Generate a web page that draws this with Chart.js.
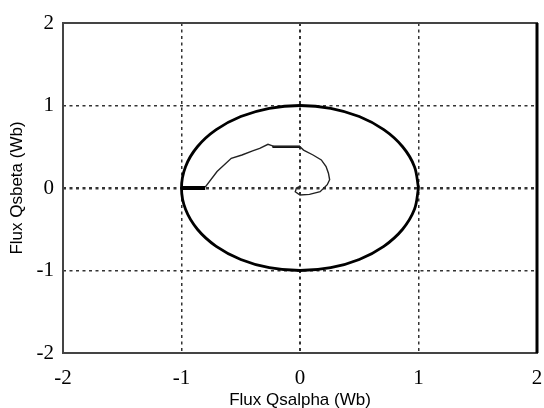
<!DOCTYPE html>
<html>
<head>
<meta charset="utf-8">
<script src="https://cdn.jsdelivr.net/npm/chart.js@4/dist/chart.umd.min.js"></script>
<style>
  html, body { margin: 0; padding: 0; background: #fff; }
  #wrap { width: 544px; height: 408px; }
</style>
</head>
<body>
<div id="wrap"><canvas id="fluxChart"></canvas></div>
<script>
// flux limit circle (|flux| = 1 Wb), read every 15 degrees
const circleAlpha = [1, 0.966, 0.866, 0.707, 0.5, 0.259, 0, -0.259, -0.5, -0.707, -0.866, -0.966, -1,
                     -0.966, -0.866, -0.707, -0.5, -0.259, 0, 0.259, 0.5, 0.707, 0.866, 0.966, 1];
const circleBeta  = [0, 0.259, 0.5, 0.707, 0.866, 0.966, 1, 0.966, 0.866, 0.707, 0.5, 0.259, 0,
                     -0.259, -0.5, -0.707, -0.866, -0.966, -1, -0.966, -0.866, -0.707, -0.5, -0.259, 0];

// thick start segment on the alpha axis
const startAlpha = [-1.0, -0.80];
const startBeta  = [0, 0];

// stator flux trajectory
const pathAlpha = [-0.80, -0.70, -0.58, -0.49, -0.40, -0.34, -0.27, -0.23, -0.23, 0.0, 0.03, 0.11, 0.18, 0.22, 0.24, 0.25, 0.23, 0.17, 0.08, 0.0, -0.04, -0.03, 0.0];
const pathBeta  = [0.01, 0.20, 0.36, 0.40, 0.45, 0.48, 0.53, 0.51, 0.50, 0.50, 0.46, 0.40, 0.34, 0.26, 0.18, 0.10, 0.04, -0.045, -0.077, -0.085, -0.045, 0.0, 0.02];

// thick flat part at the top of the trajectory
const holdAlpha = [-0.23, 0.0];
const holdBeta  = [0.50, 0.50];

const axisMin = -2;
const axisMax = 2;

function toPoints(xs, ys) {
  return xs.map((x, i) => ({ x: x, y: ys[i] }));
}

const frameBox = {
  id: 'frameBox',
  afterDraw(chart) {
    const { ctx, chartArea: a } = chart;
    ctx.save();
    ctx.strokeStyle = '#444';
    ctx.lineWidth = 2;
    ctx.strokeRect(a.left, a.top, a.right - a.left, a.bottom - a.top);
    ctx.strokeStyle = '#000';
    ctx.lineWidth = 3;
    ctx.beginPath();
    ctx.moveTo(a.right, a.top);
    ctx.lineTo(a.right, a.bottom);
    ctx.stroke();
    ctx.restore();
  }
};

const ctx = document.getElementById('fluxChart').getContext('2d');
const fluxChart = new Chart(ctx, {
  type: 'scatter',
  data: {
    datasets: [
      { data: toPoints(circleAlpha, circleBeta), showLine: true, borderColor: '#000', borderWidth: 2.8, tension: 0.35, pointRadius: 0 },
      { data: toPoints(startAlpha, startBeta), showLine: true, borderColor: '#000', borderWidth: 4, pointRadius: 0 },
      { data: toPoints(pathAlpha, pathBeta), showLine: true, borderColor: '#222', borderWidth: 1.4, pointRadius: 0 },
      { data: toPoints(holdAlpha, holdBeta), showLine: true, borderColor: '#000', borderWidth: 2.5, pointRadius: 0 }
    ]
  },
  options: {
    responsive: true,
    maintainAspectRatio: false,
    animation: false,
    layout: { padding: { top: 23, right: 7, left: 0, bottom: 0 } },
    plugins: { legend: { display: false }, tooltip: { enabled: false } },
    scales: {
      x: {
        type: 'linear', min: axisMin, max: axisMax,
        ticks: { stepSize: 1, color: '#000', padding: 13, font: { family: 'Liberation Serif', size: 21 } },
        grid: { color: '#333', lineWidth: c => c.tick.value === 0 ? 2 : 1.5, drawTicks: false },
        border: { display: false, dash: [3, 3.5] },
        title: { display: true, text: 'Flux Qsalpha (Wb)', color: '#000', font: { family: 'Liberation Sans', size: 17 }, padding: { top: -12, bottom: -3 } },
        afterFit: s => { s.height = 55; s.paddingLeft = 0; s.paddingRight = 0; }
      },
      y: {
        type: 'linear', min: axisMin, max: axisMax,
        ticks: { stepSize: 1, color: '#000', padding: 9, font: { family: 'Liberation Serif', size: 21 } },
        grid: { color: '#333', lineWidth: c => c.tick.value === 0 ? 2.4 : 1.5, drawTicks: false },
        border: { display: false, dash: [3, 3.5] },
        title: { display: true, text: 'Flux Qsbeta (Wb)', color: '#000', font: { family: 'Liberation Sans', size: 17 }, padding: { top: 7, bottom: 0 } },
        afterFit: s => { s.width = 63; s.paddingTop = 0; s.paddingBottom = 0; }
      }
    }
  },
  plugins: [frameBox]
});
</script>
</body>
</html>
